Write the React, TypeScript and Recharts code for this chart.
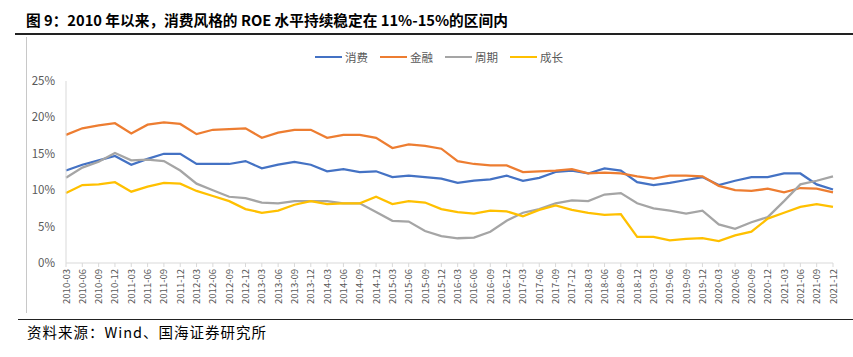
import React from 'react';
import { LineChart, Line, XAxis, YAxis } from 'recharts';

const quarters = [
  '2010-03','2010-06','2010-09','2010-12','2011-03','2011-06','2011-09','2011-12',
  '2012-03','2012-06','2012-09','2012-12','2013-03','2013-06','2013-09','2013-12',
  '2014-03','2014-06','2014-09','2014-12','2015-03','2015-06','2015-09','2015-12',
  '2016-03','2016-06','2016-09','2016-12','2017-03','2017-06','2017-09','2017-12',
  '2018-03','2018-06','2018-09','2018-12','2019-03','2019-06','2019-09','2019-12',
  '2020-03','2020-06','2020-09','2020-12','2021-03','2021-06','2021-09','2021-12',
];

const consumer = [
  12.7, 13.5, 14.1, 14.7, 13.5, 14.3, 15.0, 15.0, 13.6, 13.6, 13.6, 14.0,
  13.0, 13.5, 13.9, 13.5, 12.6, 12.9, 12.5, 12.6, 11.8, 12.0, 11.8, 11.6,
  11.0, 11.3, 11.5, 12.0, 11.3, 11.7, 12.5, 12.7, 12.3, 13.0, 12.7, 11.1,
  10.7, 11.0, 11.4, 11.8, 10.7, 11.3, 11.8, 11.8, 12.3, 12.3, 10.8, 10.1,
];
const finance = [
  17.6, 18.5, 18.9, 19.2, 17.8, 19.0, 19.3, 19.1, 17.7, 18.3, 18.4, 18.5,
  17.2, 17.9, 18.3, 18.3, 17.2, 17.6, 17.6, 17.2, 15.8, 16.3, 16.1, 15.7,
  14.0, 13.6, 13.4, 13.4, 12.5, 12.6, 12.7, 12.9, 12.3, 12.4, 12.3, 11.9,
  11.6, 12.0, 12.0, 11.9, 10.6, 10.0, 9.9, 10.2, 9.7, 10.3, 10.2, 9.7,
];
const cyclical = [
  11.7, 13.1, 13.9, 15.1, 14.1, 14.2, 14.0, 12.7, 10.9, 10.0, 9.1, 8.9,
  8.3, 8.2, 8.5, 8.5, 8.5, 8.2, 8.2, 7.0, 5.8, 5.7, 4.4, 3.7,
  3.4, 3.5, 4.3, 5.8, 6.9, 7.4, 8.2, 8.6, 8.5, 9.4, 9.6, 8.2,
  7.5, 7.2, 6.8, 7.2, 5.3, 4.7, 5.6, 6.3, 8.5, 10.8, 11.3, 11.9,
];
const growth = [
  9.6, 10.7, 10.8, 11.1, 9.8, 10.5, 11.0, 10.9, 9.9, 9.2, 8.5, 7.4,
  6.9, 7.2, 8.0, 8.5, 8.1, 8.2, 8.2, 9.1, 8.1, 8.5, 8.3, 7.4,
  7.0, 6.8, 7.2, 7.1, 6.4, 7.3, 7.9, 7.3, 6.9, 6.6, 6.7, 3.6,
  3.6, 3.1, 3.3, 3.4, 3.0, 3.8, 4.3, 6.1, 6.9, 7.7, 8.1, 7.7,
];
const yTicks = [0, 5, 10, 15, 20, 25];

const seriesNames = ['消费', '金融', '周期', '成长'];
const seriesKeys = ['consumer', 'finance', 'cyclical', 'growth'];
const seriesColors = ['#4472C4', '#ED7D31', '#A5A5A5', '#FFC000'];

const data = quarters.map((q, i) => ({
  q,
  consumer: consumer[i],
  finance: finance[i],
  cyclical: cyclical[i],
  growth: growth[i],
}));

const FONT = '"Noto Sans CJK SC", "Noto Sans", sans-serif';

const XTick = (props: any) => {
  const { x, y, payload } = props;
  return (
    <text
      x={0}
      y={0}
      transform={`translate(${x + 3.5},${y}) rotate(-90)`}
      textAnchor="end"
      fontSize={9.5}
      fill="#595959"
      fontFamily={FONT}
    >
      {payload.value}
    </text>
  );
};

const legendX = [315, 380, 445, 510];

export default function App() {
  return (
    <div
      style={{
        position: 'absolute',
        left: 0,
        top: 0,
        width: 853,
        height: 357,
        background: '#fff',
        overflow: 'hidden',
        fontFamily: FONT,
      }}
    >
      <div
        style={{
          position: 'absolute',
          left: 26,
          top: 10,
          fontSize: 14.7,
          fontWeight: 700,
          color: '#000',
          whiteSpace: 'nowrap',
          lineHeight: '20px',
        }}
      >
        图 9：2010 年以来，消费风格的 ROE 水平持续稳定在 11%-15%的区间内
      </div>
      <div style={{ position: 'absolute', left: 15, top: 33, width: 838, height: 1.5, background: '#222' }} />
      <div style={{ position: 'absolute', left: 26, top: 37, width: 1, height: 276, background: '#c8c8c8' }} />
      <div style={{ position: 'absolute', left: 0, top: 0 }}>
        <LineChart
          width={853}
          height={357}
          data={data}
          margin={{ top: 81, right: 20, left: 26, bottom: 44 }}
        >
          <XAxis
            dataKey="q"
            interval={0}
            height={50}
            axisLine={{ stroke: '#d9d9d9' }}
            tickLine={{ stroke: '#d9d9d9' }}
            tickSize={4}
            tickMargin={2}
            tick={<XTick />}
          />
          <YAxis
            width={40}
            domain={[0, 25]}
            ticks={yTicks}
            interval={0}
            tickFormatter={(v: number) => `${v}%`}
            axisLine={{ stroke: '#d9d9d9' }}
            tickLine={false}
            tickSize={0}
            tickMargin={11}
            tick={{ fontSize: 11.5, fill: '#595959', fontFamily: FONT }}
          />
          {seriesKeys.map((k, i) => (
            <Line
              key={k}
              dataKey={k}
              name={seriesNames[i]}
              stroke={seriesColors[i]}
              strokeWidth={2.25}
              dot={false}
              activeDot={false}
              type="linear"
              isAnimationActive={false}
            />
          ))}
        </LineChart>
      </div>
      {seriesNames.map((n, i) => (
        <div
          key={n}
          style={{
            position: 'absolute',
            left: legendX[i],
            top: 49,
            height: 16,
            display: 'flex',
            alignItems: 'center',
            whiteSpace: 'nowrap',
          }}
        >
          <div style={{ width: 27, height: 2.5, background: seriesColors[i] }} />
          <span style={{ marginLeft: 3, fontSize: 11.5, color: '#595959', lineHeight: '16px' }}>{n}</span>
        </div>
      ))}
      <div style={{ position: 'absolute', left: 18, top: 318.5, width: 835, height: 1.5, background: '#222' }} />
      <div
        style={{
          position: 'absolute',
          left: 27,
          top: 321.5,
          fontSize: 14.5,
          letterSpacing: 1,
          color: '#000',
          whiteSpace: 'nowrap',
          lineHeight: '20px',
        }}
      >
        资料来源：Wind、国海证券研究所
      </div>
    </div>
  );
}
